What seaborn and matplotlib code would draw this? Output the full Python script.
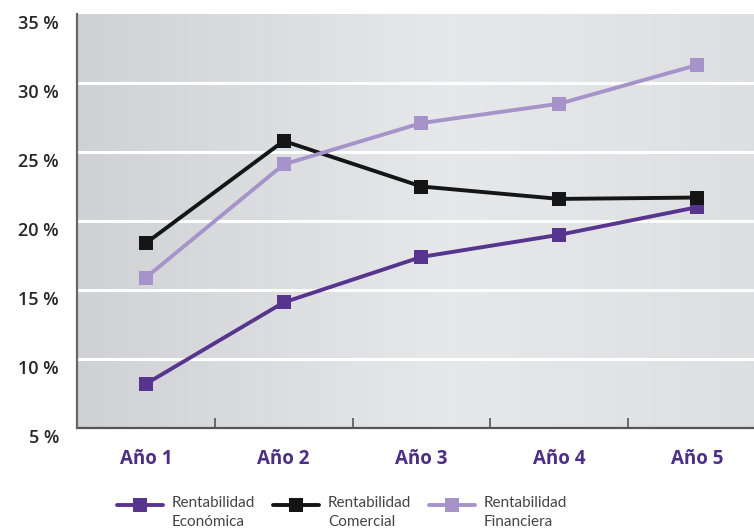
import numpy as np
import pandas as pd
import matplotlib
matplotlib.use("Agg")
import matplotlib.pyplot as plt
import matplotlib.transforms as mtransforms
from matplotlib.legend_handler import HandlerLine2D
import seaborn as sns

# Data (percent)
years = ["Año 1", "Año 2", "Año 3", "Año 4", "Año 5"]
economica = [8.2, 14.1, 17.4, 19.0, 21.0]
comercial = [18.4, 25.8, 22.5, 21.6, 21.7]
financiera = [15.9, 24.1, 27.1, 28.5, 31.3]
series_names = ["Rentabilidad\nEconómica", "Rentabilidad\nComercial", "Rentabilidad\nFinanciera"]
y_ticks = [5, 10, 15, 20, 25, 30, 35]

colors = ["#57358f", "#151515", "#a693c9"]

sns.set_style("white")
plt.rcParams["font.family"] = ["Open Sans", "DejaVu Sans"]

df = pd.DataFrame({
    "pos": list(range(len(years))) * 3,
    "valor": economica + comercial + financiera,
    "serie": np.repeat(series_names, len(years)),
})

fig = plt.figure(figsize=(7.54, 5.30), dpi=100)
ax = fig.add_axes([77 / 754, 1 - 428 / 530, 1 - 77 / 754, (428 - 14) / 530])

# grey gradient backdrop
ramp = np.interp(np.linspace(0, 1, 300), [0, 0.55, 1], [0.0, 1.0, 0.6])
c0 = np.array([0.812, 0.820, 0.831])
c1 = np.array([0.905, 0.910, 0.918])
grad = c0[None, :] + ramp[:, None] * (c1 - c0)[None, :]
ax.imshow(grad[None, :, :], aspect="auto", extent=[0, 1, 0, 1],
          transform=ax.transAxes, zorder=-2)
ax.patch.set_visible(False)

sns.lineplot(data=df, x="pos", y="valor", hue="serie", hue_order=series_names,
             palette=colors, style="serie", markers=["s", "s", "s"], dashes=False,
             linewidth=2.8, markersize=10, markeredgewidth=0, ax=ax, zorder=3)

ax.set_xlim(-0.5, (754 - 145) / 138)
ax.set_ylim(5, 35)

# white horizontal grid
for v in y_ticks[1:-1]:
    ax.axhline(v, color="white", lw=2.2, zorder=1)

ax.set_yticks(y_ticks)
ax.set_yticklabels([f"{v} %" for v in y_ticks])
ax.tick_params(axis="y", length=0, pad=13, labelsize=13, labelcolor="#262626")
offset = mtransforms.ScaledTranslation(0, -0.08, fig.dpi_scale_trans)
for lab in ax.get_yticklabels():
    lab.set_transform(lab.get_transform() + offset)
    lab.set_fontweight("semibold")

ax.set_xticks(range(len(years)))
ax.set_xticklabels(years)
ax.set_xticks([i + 0.5 for i in range(len(years) - 1)], minor=True)
ax.tick_params(axis="x", which="major", bottom=False, length=0, pad=15,
               labelsize=13.5, labelcolor="#4b2d8a")
ax.tick_params(axis="x", which="minor", bottom=True, direction="in", length=7.5,
               width=1.2, color="#555555")
for lab in ax.get_xticklabels():
    lab.set_fontweight("bold")

ax.set_xlabel("")
ax.set_ylabel("")
for s in ["top", "right"]:
    ax.spines[s].set_visible(False)
ax.spines["left"].set_color("#666666")
ax.spines["left"].set_linewidth(1.6)
ax.spines["bottom"].set_color("#555555")
ax.spines["bottom"].set_linewidth(1.6)
ax.spines["left"].set_zorder(4)


class TopLineHandler(HandlerLine2D):
    """Place the legend line level with the first text line."""
    def adjust_drawing_area(self, legend, orig_handle, xdescent, ydescent,
                            width, height, fontsize):
        xd, yd, w, h = super().adjust_drawing_area(
            legend, orig_handle, xdescent, ydescent, width, height, fontsize)
        return xd, yd - 0.95 * fontsize, w, h


handles, labels = ax.get_legend_handles_labels()
ax.get_legend().remove()
leg = fig.legend(handles, labels, loc="upper left",
                 bbox_to_anchor=(117 / 754, 1 - 496 / 530), ncol=3, frameon=False,
                 prop={"family": ["Lato", "DejaVu Sans"], "size": 11},
                 handlelength=3.0, handletextpad=0.6,
                 columnspacing=1.15, borderpad=0, borderaxespad=0,
                 handler_map={h: TopLineHandler() for h in handles})
for t in leg.get_texts():
    t.set_color("#444444")
    t.set_linespacing(1.45)

fig.savefig("out.png", dpi=100)
